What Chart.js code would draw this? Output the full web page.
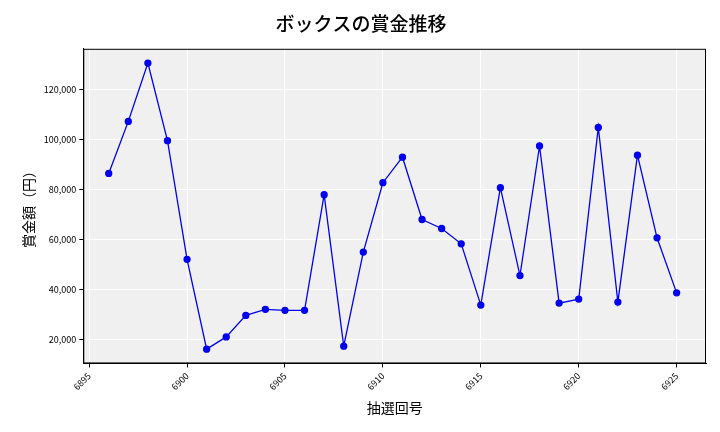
<!DOCTYPE html>
<html>
<head>
<meta charset="utf-8">
<script src="https://cdn.jsdelivr.net/npm/chart.js@4"></script>
<style>
  body { margin: 0; background: #fff; }
  #wrap { width: 720px; height: 432px; }
</style>
</head>
<body>
<div id="wrap"><canvas id="chart1"></canvas></div>
<script>
var rounds = [6896, 6897, 6898, 6899, 6900, 6901, 6902, 6903, 6904, 6905,
              6906, 6907, 6908, 6909, 6910, 6911, 6912, 6913, 6914, 6915,
              6916, 6917, 6918, 6919, 6920, 6921, 6922, 6923, 6924, 6925];
var prizes = [86500, 107300, 130600, 99600, 52200, 16300, 21200, 29800, 32200, 31800,
              31800, 78000, 17500, 55100, 82800, 93000, 68100, 64500, 58400, 33900,
              80800, 45700, 97500, 34700, 36300, 104900, 35100, 93800, 60800, 38800];
var xTicks = [6895, 6900, 6905, 6910, 6915, 6920, 6925];
var yTicks = [20000, 40000, 60000, 80000, 100000, 120000];

var font = "'Noto Sans CJK JP', 'Noto Sans', sans-serif";

// grey plot area with a thin frame
var plotBg = {
    id: 'plotBg',
    beforeDraw: function (chart) {
        var a = chart.chartArea, ctx = chart.ctx;
        ctx.save();
        ctx.fillStyle = '#f0f0f0';
        ctx.fillRect(a.left, a.top, a.right - a.left, a.bottom - a.top);
        ctx.restore();
    },
    afterDraw: function (chart) {
        var a = chart.chartArea, ctx = chart.ctx;
        ctx.save();
        ctx.strokeStyle = '#000';
        ctx.lineWidth = 1;
        ctx.strokeRect(a.left + 0.5, a.top + 0.5, a.right - a.left - 1, a.bottom - a.top - 1);
        ctx.restore();
    }
};

var points = rounds.map(function (r, i) { return { x: r, y: prizes[i] }; });

new Chart(document.getElementById('chart1'), {
    type: 'line',
    data: {
        datasets: [{
            data: points,
            borderColor: '#0000ee',
            backgroundColor: '#0000ee',
            borderWidth: 1.3,
            pointRadius: 3,
            tension: 0
        }]
    },
    options: {
        responsive: true,
        maintainAspectRatio: false,
        animation: false,
        layout: { padding: { left: 16, right: 14, top: 10, bottom: 12 } },
        plugins: {
            legend: { display: false },
            tooltip: { enabled: false },
            title: {
                display: true,
                text: 'ボックスの賞金推移',
                font: { family: font, size: 19, weight: '500' },
                color: '#000',
                padding: { top: 2, bottom: 14 }
            }
        },
        scales: {
            x: {
                type: 'linear',
                min: 6894.7,
                max: 6926.5,
                afterBuildTicks: function (axis) {
                    axis.ticks = xTicks.map(function (v) { return { value: v }; });
                },
                ticks: {
                    color: '#000',
                    font: { family: font, size: 9 },
                    maxRotation: 45, minRotation: 45,
                    callback: function (v) { return v; }
                },
                grid: { color: '#ffffff', lineWidth: 1, drawTicks: true, tickColor: '#000', tickLength: 4 },
                border: { color: '#000' },
                title: { display: true, text: '抽選回号', color: '#000', font: { family: font, size: 14 } }
            },
            y: {
                min: 10600,
                max: 136300,
                afterBuildTicks: function (axis) {
                    axis.ticks = yTicks.map(function (v) { return { value: v }; });
                },
                ticks: {
                    color: '#000',
                    font: { family: font, size: 9 },
                    callback: function (v) { return v.toLocaleString('en-US'); }
                },
                grid: { color: '#ffffff', lineWidth: 1, tickColor: '#000', tickLength: 4 },
                border: { color: '#000' },
                title: { display: true, text: '賞金額（円）', color: '#000', font: { family: font, size: 14 } }
            }
        }
    },
    plugins: [plotBg]
});
</script>
</body>
</html>
